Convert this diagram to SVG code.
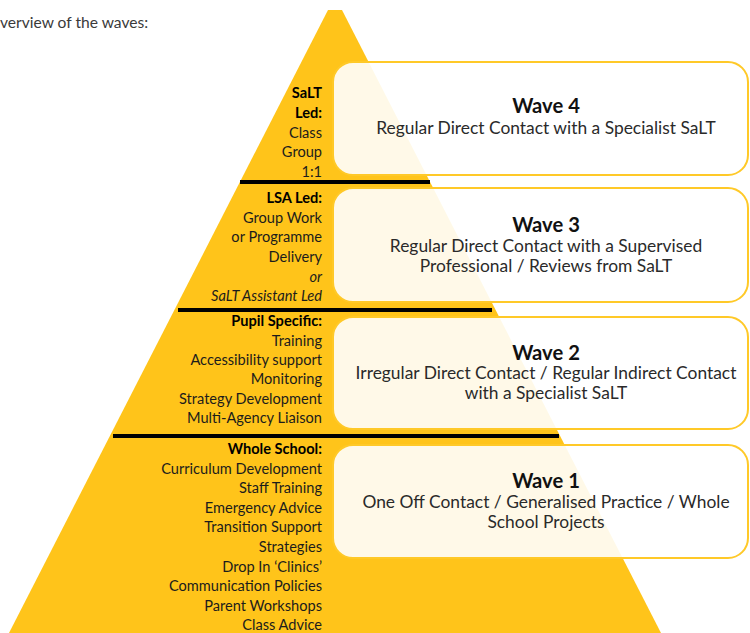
<svg xmlns="http://www.w3.org/2000/svg" width="750" height="633" viewBox="0 0 750 633">
  <style>
    .lbl { font-family: Lato, "Open Sans", "Liberation Sans", sans-serif; font-size: 14.6px; fill: #1c1c1c; text-anchor: end; }
    .lbl .b, .lbl.b { font-weight: bold; fill: #000; }
    .it { font-style: italic; }
    .card { fill: #ffffff; fill-opacity: 0.9; stroke: #ffc928; stroke-width: 2; }
    .title { font-family: Lato, "Open Sans", "Liberation Sans", sans-serif; font-size: 20.2px; font-weight: bold; fill: #111; text-anchor: middle; }
    .desc { font-family: Lato, "Open Sans", "Liberation Sans", sans-serif; font-size: 17.4px; fill: #2a2a2a; text-anchor: middle; }
    .rule { stroke: #000; stroke-width: 4; }
  </style>

  <rect width="750" height="633" fill="#ffffff"/>

  <text x="0" y="28" font-family="Lato, 'Liberation Sans', sans-serif" font-size="15.6" fill="#3a3a3a">verview of the waves:</text>

  <!-- pyramid body -->
  <polygon id="pyramid" points="328,10 342,10 661,633 9,633" fill="#ffc41a"/>

  <!-- tier separators -->
  <g id="separators">
    <line class="rule" x1="240" y1="182" x2="430" y2="182"/>
    <line class="rule" x1="178" y1="310" x2="492" y2="310"/>
    <line class="rule" x1="113" y1="436" x2="559" y2="436"/>
  </g>

  <!-- tier 4 -->
  <g id="tier4-labels" class="lbl">
    <text x="322" y="98" class="b">SaLT</text>
    <text x="322" y="118" class="b">Led:</text>
    <text x="322" y="138">Class</text>
    <text x="322" y="157">Group</text>
    <text x="322" y="177">1:1</text>
  </g>

  <!-- tier 3 -->
  <g id="tier3-labels" class="lbl">
    <text x="322" y="203" class="b">LSA Led:</text>
    <text x="322" y="223">Group Work</text>
    <text x="322" y="242">or Programme</text>
    <text x="322" y="262">Delivery</text>
    <text x="322" y="282" class="it">or</text>
    <text x="322" y="301" class="it">SaLT Assistant Led</text>
  </g>

  <!-- tier 2 -->
  <g id="tier2-labels" class="lbl">
    <text x="322" y="326" class="b">Pupil Specific:</text>
    <text x="322" y="346">Training</text>
    <text x="322" y="365">Accessibility support</text>
    <text x="322" y="384">Monitoring</text>
    <text x="322" y="404">Strategy Development</text>
    <text x="322" y="423">Multi-Agency Liaison</text>
  </g>

  <!-- tier 1 -->
  <g id="tier1-labels" class="lbl">
    <text x="322" y="454" class="b">Whole School:</text>
    <text x="322" y="474">Curriculum Development</text>
    <text x="322" y="493">Staff Training</text>
    <text x="322" y="513">Emergency Advice</text>
    <text x="322" y="532">Transition Support</text>
    <text x="322" y="552">Strategies</text>
    <text x="322" y="572">Drop In ‘Clinics’</text>
    <text x="322" y="591">Communication Policies</text>
    <text x="322" y="611">Parent Workshops</text>
    <text x="322" y="630">Class Advice</text>
  </g>

  <!-- wave cards -->
  <g id="wave4">
    <rect class="card" x="333" y="62" width="415" height="113" rx="20"/>
    <text class="title" x="546" y="113">Wave 4</text>
    <text class="desc" x="546" y="134">Regular Direct Contact with a Specialist SaLT</text>
  </g>
  <g id="wave3">
    <rect class="card" x="333" y="188" width="415" height="114" rx="20"/>
    <text class="title" x="546" y="232">Wave 3</text>
    <text class="desc" x="546" y="252">Regular Direct Contact with a Supervised</text>
    <text class="desc" x="546" y="272">Professional / Reviews from SaLT</text>
  </g>
  <g id="wave2">
    <rect class="card" x="333" y="317" width="415" height="112" rx="20"/>
    <text class="title" x="546" y="360">Wave 2</text>
    <text class="desc" x="546" y="379">Irregular Direct Contact / Regular Indirect Contact</text>
    <text class="desc" x="546" y="399">with a Specialist SaLT</text>
  </g>
  <g id="wave1">
    <rect class="card" x="333" y="445" width="415" height="113" rx="20"/>
    <text class="title" x="546" y="488">Wave 1</text>
    <text class="desc" x="546" y="508">One Off Contact / Generalised Practice / Whole</text>
    <text class="desc" x="546" y="528">School Projects</text>
  </g>
</svg>
